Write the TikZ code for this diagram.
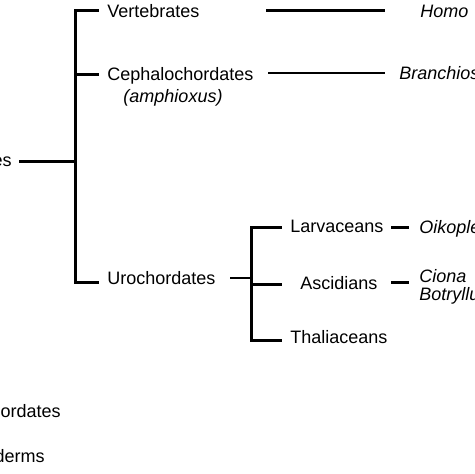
\documentclass[tikz,border=0pt]{standalone}
\usepackage{fontspec}
\setmainfont{Liberation Sans}
\usepackage{tikz}
\usetikzlibrary{positioning, calc}
\tikzset{
  taxonlabel/.style={
    anchor=base west, inner sep=0pt,
    font=\fontsize{9}{11}\selectfont
  },
  specieslabel/.style={
    anchor=base west, inner sep=0pt,
    font=\fontsize{9}{11}\selectfont\itshape
  },
  treeline/.style={line width=1.5pt, line cap=rect},
  linkline/.style={line width=1.3pt},
}

\begin{document}
\begin{tikzpicture}[x=0.5pt, y=-0.5pt]
  \useasboundingbox (0,0) rectangle (474,474);
  \clip (0,0) rectangle (474,474);

  % ── Joints of the tree ────────────────────────────────────────
  \coordinate (rootend)  at (20,162);
  \coordinate (rootjoin) at (75,162);
  \coordinate (vtop)     at (75,11);
  \coordinate (vmid)     at (75,75);
  \coordinate (vbot)     at (75,283);
  \coordinate (vertend)  at (97,11);
  \coordinate (cephend)  at (97,75);
  \coordinate (uroend)   at (97,283);
  \coordinate (urodash)  at (230,278);
  \coordinate (subjoin)  at (251,278);
  \coordinate (stop)     at (251,228);
  \coordinate (smid)     at (251,285);
  \coordinate (sbot)     at (251,340);
  \coordinate (larvend)  at (280,228);
  \coordinate (ascend)   at (280,285);
  \coordinate (thalend)  at (280,340);

  % ── Taxa ──────────────────────────────────────────────────────
  \node[taxonlabel, anchor=base east] (chordates) at (12,167) {es};
  \node[taxonlabel] (vertebrates) at (107,17.5) {Vertebrates};
  \node[taxonlabel] (cephalo) at (107,80.5) {Cephalochordates};
  \node[taxonlabel, anchor=base] (amphioxus) at (173,103)
    {\itshape (amphioxus)};
  \node[taxonlabel] (urochordates) at (107,285) {Urochordates};
  \node[taxonlabel] (larvaceans) at (290,233) {Larvaceans};
  \node[taxonlabel] (ascidians) at (300,290) {Ascidians};
  \node[taxonlabel] (thaliaceans) at (290,343) {Thaliaceans};
  \node[taxonlabel, anchor=base east] (hemichord) at (61,417) {ordates};
  \node[taxonlabel, anchor=base east] (echino) at (45,462) {derms};

  % ── Model species ─────────────────────────────────────────────
  \node[specieslabel] (homo) at (420,18) {Homo};
  \node[specieslabel] (branchio) at (399,80) {Branchios};
  \node[specieslabel] (oikople) at (419,234) {Oikople};
  \node[specieslabel] (ciona) at (419,283) {Ciona};
  \node[specieslabel] (botryll) at (419,300) {Botryllu};

  % ── Main bracket ──────────────────────────────────────────────
  \draw[treeline] (rootend) -- (rootjoin);
  \draw[treeline] (vtop) -- (vbot);
  \draw[treeline] (vtop) -- (vertend);
  \draw[treeline] (vmid) -- (cephend);
  \draw[treeline] (vbot) -- (uroend);

  % Urochordate bracket
  \draw[linkline] (urodash) -- (subjoin);
  \draw[treeline] (stop) -- (sbot);
  \draw[treeline] (stop) -- (larvend);
  \draw[treeline] (smid) -- (ascend);
  \draw[treeline] (sbot) -- (thalend);

  % ── Links to species ──────────────────────────────────────────
  \coordinate (homofrom) at (267,11);
  \coordinate (homoto)   at (383,11);
  \coordinate (brfrom)   at (268,73);
  \coordinate (brto)     at (385,73);
  \coordinate (larvfrom) at (392,228);
  \coordinate (larvto)   at (407,228);
  \coordinate (ascfrom)  at (392,283);
  \coordinate (ascto)    at (407,283);
  \draw[treeline] (homofrom) -- (homoto);
  \draw[linkline] (brfrom) -- (brto);
  \draw[treeline] (larvfrom) -- (larvto);
  \draw[treeline] (ascfrom) -- (ascto);
\end{tikzpicture}
\end{document}
